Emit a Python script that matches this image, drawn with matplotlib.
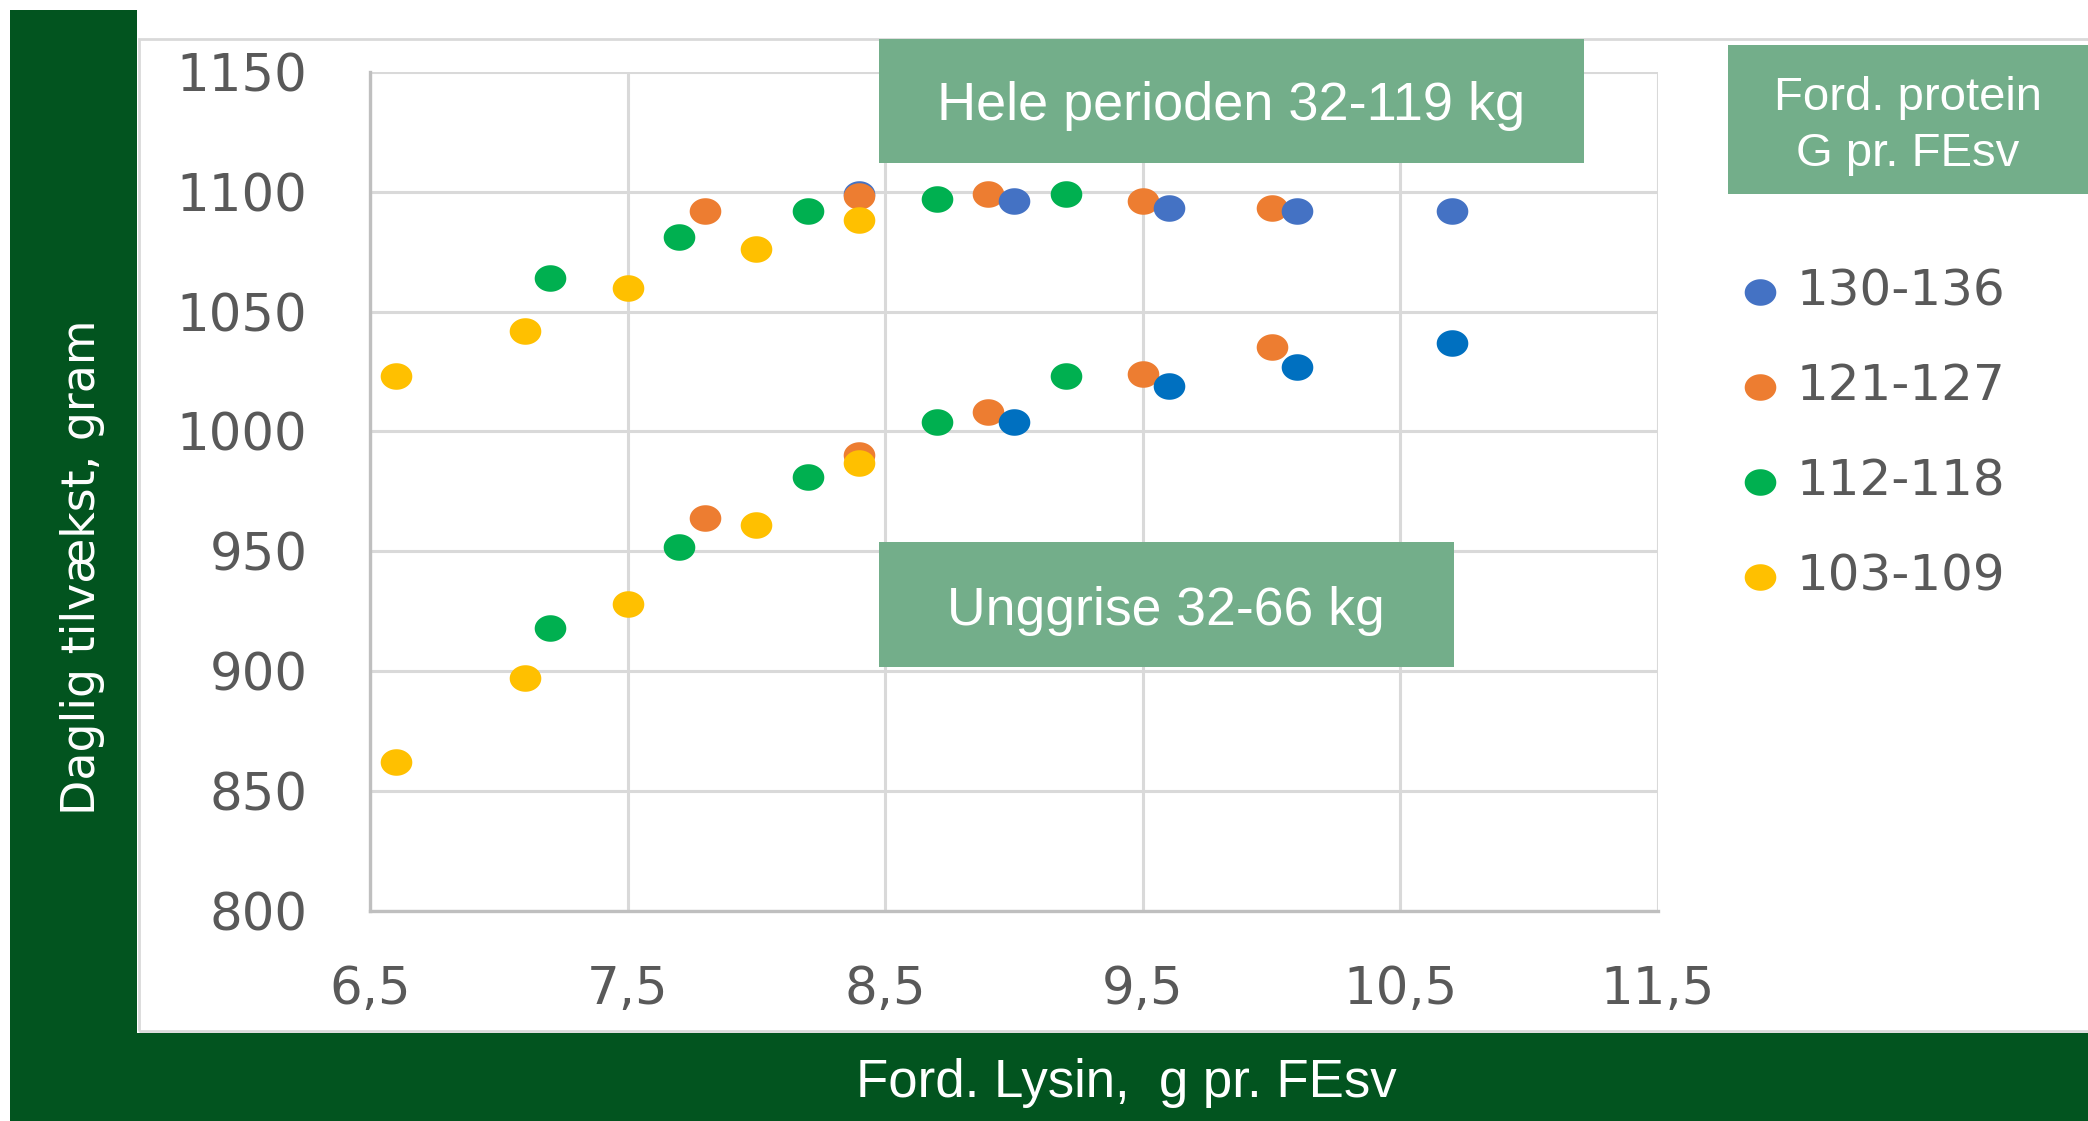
import matplotlib
matplotlib.use('Agg')
import matplotlib.pyplot as plt
from matplotlib.patches import Rectangle
from matplotlib.path import Path
import numpy as np

# --- data ---
labels = ['130-136', '121-127', '112-118', '103-109']

# Hele perioden 32-119 kg
hele_130_x = [8.4, 9.0, 9.6, 10.1, 10.7]
hele_130_y = [1099, 1096, 1093, 1092, 1092]
hele_121_x = [7.8, 8.4, 8.9, 9.5, 10.0]
hele_121_y = [1092, 1098, 1099, 1096, 1093]
hele_112_x = [7.2, 7.7, 8.2, 8.7, 9.2]
hele_112_y = [1064, 1081, 1092, 1097, 1099]
hele_103_x = [6.6, 7.1, 7.5, 8.0, 8.4]
hele_103_y = [1023, 1042, 1060, 1076, 1088]

# Unggrise 32-66 kg
ung_130_x = [9.0, 9.6, 10.1, 10.7]
ung_130_y = [1004, 1019, 1027, 1037]
ung_121_x = [7.8, 8.4, 8.9, 9.5, 10.0]
ung_121_y = [964, 990, 1008, 1024, 1035]
ung_112_x = [7.2, 7.7, 8.2, 8.7, 9.2]
ung_112_y = [918, 952, 981, 1004, 1023]
ung_103_x = [6.6, 7.1, 7.5, 8.0, 8.4]
ung_103_y = [862, 897, 928, 961, 987]

xtick_vals = [6.5, 7.5, 8.5, 9.5, 10.5, 11.5]
xtick_labels = ['6,5', '7,5', '8,5', '9,5', '10,5', '11,5']
ytick_vals = [800, 850, 900, 950, 1000, 1050, 1100, 1150]

# --- style ---
W, H = 2088, 1121
blue = '#4472C4'
blue2 = '#0070C0'
orange = '#ED7D31'
green = '#00B050'
yellow = '#FFC000'
frame_green = '#02541F'
box_green = '#73AE8A'
grey_txt = '#595959'
narrow = ['Liberation Sans Narrow', 'Liberation Sans', 'DejaVu Sans']

t = np.linspace(0, 2 * np.pi, 80)
oval = Path(np.column_stack([1.19 * np.cos(t), np.sin(t)]), closed=True)
msize = 518


def fx(px):
    return px / W


def fy(py):
    return 1 - py / H


fig = plt.figure(figsize=(W / 100, H / 100), dpi=100)

# background frame
fig.add_artist(Rectangle((fx(10), 0), 1, fy(10), transform=fig.transFigure,
                         fc=frame_green, ec='none', zorder=-3))
fig.add_artist(Rectangle((fx(137), fy(1033)), 1, 1, transform=fig.transFigure,
                         fc='white', ec='none', zorder=-2))
fig.add_artist(Rectangle((fx(139), fy(1031)), 1, (1031 - 39) / H, transform=fig.transFigure,
                         fill=False, ec='#D9D9D9', lw=2, zorder=-1))

ax = fig.add_axes([fx(370), fy(911), (1658 - 370) / W, (911 - 71.7) / H])
ax.patch.set_alpha(0)

# upper group (blue at 8.4 sits under the orange one)
hx = np.array(hele_130_x)
hy = np.array(hele_130_y)
early = hx < 8.5
h_blue = ax.scatter(hx[early], hy[early], s=msize, marker=oval, color=blue, lw=0)
h_orange = ax.scatter(hele_121_x, hele_121_y, s=msize, marker=oval, color=orange, lw=0)
ax.scatter(hx[~early], hy[~early], s=msize, marker=oval, color=blue, lw=0)
h_green = ax.scatter(hele_112_x, hele_112_y, s=msize, marker=oval, color=green, lw=0)
h_yellow = ax.scatter(hele_103_x, hele_103_y, s=msize, marker=oval, color=yellow, lw=0)

# lower group
ax.scatter(ung_121_x, ung_121_y, s=msize, marker=oval, color=orange, lw=0)
ax.scatter(ung_130_x, ung_130_y, s=msize, marker=oval, color=blue2, lw=0)
ax.scatter(ung_112_x, ung_112_y, s=msize, marker=oval, color=green, lw=0)
ax.scatter(ung_103_x, ung_103_y, s=msize, marker=oval, color=yellow, lw=0)

ax.set_xlim(6.5, 11.5)
ax.set_ylim(800, 1150)
ax.set_xticks(xtick_vals)
ax.set_xticklabels(xtick_labels)
ax.set_yticks(ytick_vals)
ax.grid(True, color='#D9D9D9', lw=2.2)
ax.set_axisbelow(True)
for side in ['top', 'right']:
    ax.spines[side].set_visible(False)
for side in ['left', 'bottom']:
    ax.spines[side].set_color('#BFBFBF')
    ax.spines[side].set_linewidth(2.4)
ax.tick_params(length=0, labelsize=37, labelcolor=grey_txt)
ax.tick_params(axis='x', pad=39)
ax.tick_params(axis='y', pad=45)

# axis titles on the green frame
fig.text(fx(94.6), fy(567.5), 'Daglig tilvækst, gram', rotation=90, rotation_mode='anchor',
         ha='center', va='baseline', color='white', fontsize=33, family='DejaVu Sans')
fig.text(fx(1126), fy(1096.5), 'Ford. Lysin,  g pr. FEsv', ha='center', va='baseline',
         color='white', fontsize=38, family=narrow)

# labelled boxes
fig.add_artist(Rectangle((fx(879), fy(163)), (1584 - 879) / W, (163 - 39) / H,
                         transform=fig.transFigure, fc=box_green, ec='none', zorder=2))
fig.text(fx(1231), fy(120), 'Hele perioden 32-119 kg', ha='center', va='baseline',
         color='white', fontsize=39, family=narrow, zorder=3)
fig.add_artist(Rectangle((fx(879), fy(666.7)), (1454 - 879) / W, (666.7 - 542.5) / H,
                         transform=fig.transFigure, fc=box_green, ec='none', zorder=2))
fig.text(fx(1166), fy(625.3), 'Unggrise 32-66 kg', ha='center', va='baseline',
         color='white', fontsize=38.5, family=narrow, zorder=3)

# legend
fig.add_artist(Rectangle((fx(1728), fy(194)), 1, (194 - 45) / H,
                         transform=fig.transFigure, fc=box_green, ec='none', zorder=2))
fig.text(fx(1908), fy(110), 'Ford. protein', ha='center', va='baseline',
         color='white', fontsize=34, family='Liberation Sans', zorder=3)
fig.text(fx(1908), fy(166), 'G pr. FEsv', ha='center', va='baseline',
         color='white', fontsize=34, family='Liberation Sans', zorder=3)

leg = fig.legend([h_blue, h_orange, h_green, h_yellow], labels, loc='center left',
                 bbox_to_anchor=(fx(1740), fy(433.8)), frameon=False, scatterpoints=1,
                 handlelength=0.8, handletextpad=0.33, labelspacing=0.94,
                 borderpad=0, borderaxespad=0, prop={'family': 'DejaVu Sans', 'size': 36})
for txt in leg.get_texts():
    txt.set_color(grey_txt)

fig.savefig('out.png', dpi=100)
